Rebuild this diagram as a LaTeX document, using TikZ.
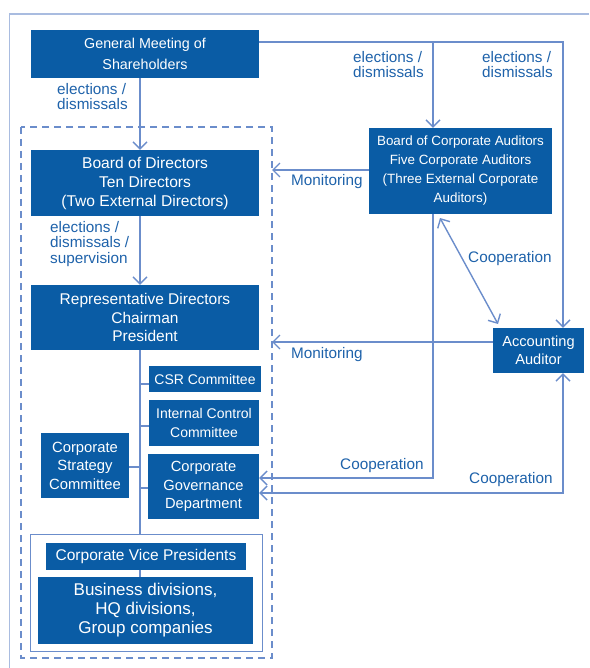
\documentclass[tikz,border=0pt]{standalone}
\usepackage{fontspec}
\setmainfont{Liberation Sans}
\usetikzlibrary{arrows.meta}
\definecolor{boxblue}{HTML}{0A5CA5}
\definecolor{linkblue}{HTML}{6B8DCB}
\definecolor{labelblue}{HTML}{1E62AA}
\definecolor{framegray}{HTML}{A9BCE0}
\newcommand{\fsz}[2]{\fontsize{#1}{#2}\selectfont}
\tikzset{
  orgbox/.style={fill=boxblue, draw=none, text=white, align=center, inner sep=0pt,
    font=\fsz{14.5}{18.7}},
  lbl/.style={text=labelblue, align=left, inner sep=0pt, font=\fsz{15.3}{15.5}},
  link/.style={draw=linkblue, line width=1.4pt},
  tip/.style={-{Straight Barb[length=7pt,width=14pt,line width=1.4pt]}},
  dtip/.style={{Straight Barb[length=7pt,width=14pt,line width=1.4pt]}-{Straight Barb[length=7pt,width=14pt,line width=1.4pt]}},
}
\begin{document}
\begin{tikzpicture}[x=1pt,y=-1pt]
\useasboundingbox (0,0) rectangle (589,668);
% outer frame
\draw[framegray, line width=1.6pt] (9.5,668) -- (9.5,14) -- (589,14);
% dashed frame
\draw[linkblue, line width=1.3pt, dash pattern=on 7pt off 5pt] (21,127) rectangle (272,658);
% white box for vice presidents
\draw[linkblue, line width=1pt] (30,534) rectangle (262,651);

% boxes
\node[orgbox, minimum width=228pt, minimum height=48pt, font=\fsz{14.3}{21}] (gms) at (145,54) {General Meeting of\\Shareholders};
\node[orgbox, minimum width=228pt, minimum height=66pt, font=\fsz{15.6}{19}] (bod) at (145,183) {Board of Directors\\Ten Directors\\(Two External Directors)};
\node[orgbox, minimum width=228pt, minimum height=65pt, font=\fsz{15.5}{18.6}] (rep) at (145,317.5) {Representative Directors\\Chairman\\President};
\node[orgbox, minimum width=112pt, minimum height=26pt, font=\fsz{14}{18}] (csr) at (205,379) {CSR Committee};
\node[orgbox, minimum width=110pt, minimum height=46pt, font=\fsz{14}{19}] (icc) at (204,423) {Internal Control\\Committee};
\node[orgbox, minimum width=88pt, minimum height=65pt, font=\fsz{14.8}{18.5}] (csc) at (85,465.5) {Corporate\\Strategy\\Committee};
\node[orgbox, minimum width=111pt, minimum height=65pt, font=\fsz{14.7}{18.7}] (cgd) at (203.5,486.5) {Corporate\\Governance\\Department};
\node[orgbox, minimum width=200pt, minimum height=27pt, font=\fsz{15.5}{18}] (cvp) at (146,556.5) {Corporate Vice Presidents};
\node[orgbox, minimum width=215pt, minimum height=67pt, font=\fsz{17}{19}] (bdv) at (145.5,610.5) {Business divisions,\\HQ divisions,\\Group companies};
\node[orgbox, minimum width=183pt, minimum height=86pt, font=\fsz{13.4}{19}] (bca) at (460.5,171) {Board of Corporate Auditors\\Five Corporate Auditors\\(Three External Corporate\\Auditors)};
\node[orgbox, minimum width=91pt, minimum height=45pt, font=\fsz{14.6}{18.5}] (aa) at (538.5,350.5) {Accounting\\Auditor};

% named points
\coordinate (dashR1) at (272,170);
\coordinate (dashR2) at (272,342);

% connectors
\draw[link, tip] (gms.south -| 140,0) -- (bod.north -| 140,0);
\draw[link, tip] (gms.east |- 0,42) -- (563,42) -- (aa.north -| 563,0);
\draw[link, tip] (433,42) -- (bca.north -| 433,0);
\draw[link, tip] (bod.south -| 140,0) -- (rep.north -| 140,0);
\draw[link] (rep.south -| 140,0) -- (140,534);
\draw[link] (140,384) -- (csr.west |- 0,384);
\draw[link] (140,426) -- (icc.west |- 0,426);
\draw[link] (csc.east |- 0,467) -- (140,467);
\draw[link] (140,488) -- (cgd.west |- 0,488);
\draw[link] (cvp.south -| 140,0) -- (bdv.north -| 140,0);
\draw[link, tip] (bca.west |- 0,170) -- (dashR1);
\draw[link, tip] (aa.west |- 0,342) -- (dashR2);
\draw[link, tip] (bca.south -| 433,0) -- (433,478) -- (cgd.east |- 0,478);
\draw[link, dtip] (cgd.east |- 0,493) -- (563,493) -- (aa.south -| 563,0);
\draw[link, dtip] (440,218) -- (498,324);

% labels
\node[lbl, anchor=north west] (l1) at (57,83) {elections /\\dismissals};
\node[lbl, anchor=north west] (l2) at (353,51) {elections /\\dismissals};
\node[lbl, anchor=north west] (l3) at (482,51) {elections /\\dismissals};
\node[lbl, anchor=north west] (l4) at (50,221) {elections /\\dismissals /\\supervision};
\node[lbl, anchor=west] (m1) at (291,182) {Monitoring};
\node[lbl, anchor=west] (m2) at (291,355) {Monitoring};
\node[lbl, anchor=west] (c1) at (468,259) {Cooperation};
\node[lbl, anchor=west] (c2) at (340,466) {Cooperation};
\node[lbl, anchor=west] (c3) at (469,480) {Cooperation};
\end{tikzpicture}
\end{document}
